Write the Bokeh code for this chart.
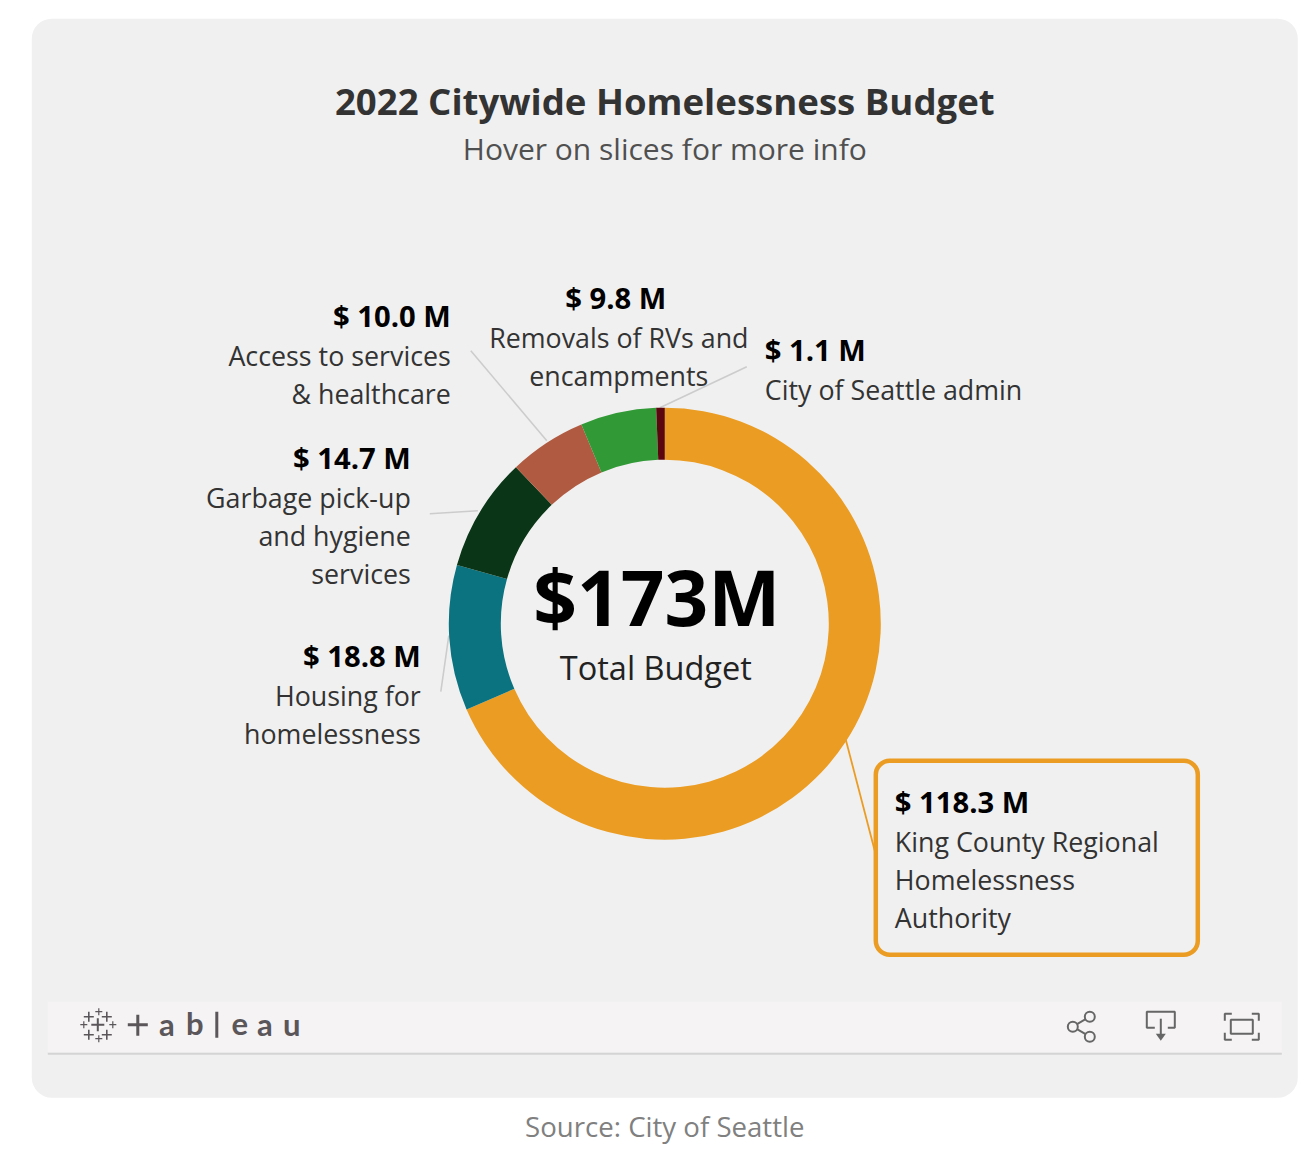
import math
from bokeh.plotting import figure
from bokeh.models import Range1d
from bokeh.core.properties import value
from bokeh.embed import file_html
from bokeh.resources import INLINE

# ---- data ----
categories = ["King County Regional Homelessness Authority", "Housing for homelessness",
              "Garbage pick-up and hygiene services", "Access to services & healthcare",
              "Removals of RVs and encampments", "City of Seattle admin"]
budget_m = [118.3, 18.8, 14.7, 10.0, 9.8, 1.1]
slice_colors = ["#EB9C23", "#0B727F", "#0A3617", "#B05B41", "#329937", "#5C0610"]

title = "2022 Citywide Homelessness Budget"
subtitle = "Hover on slices for more info"
total_label = "$173M"
total_caption = "Total Budget"
source = "Source: City of Seattle"

W, H = 1300, 1156
FONT = "Open Sans"


def X(px):
    return px - 0.7


def Y(py):
    return H - py + 0.8


p = figure(width=W, height=H, output_backend="svg", toolbar_location=None,
           x_range=Range1d(0, W), y_range=Range1d(0, H),
           min_border=0, outline_line_color=None, background_fill_color="white",
           border_fill_color="white")
p.axis.visible = False
p.grid.visible = False


def box(l, t, r, b, **kw):
    p.quad(left=[X(l)], right=[X(r)], top=[Y(t)], bottom=[Y(b)], **kw)


def line(xs, ys, color, width, **kw):
    p.line([X(x) for x in xs], [Y(y) for y in ys], line_color=color, line_width=width, **kw)


def text(x, y, s, size, color="#333333", style="normal", align="left", font=FONT):
    p.text([X(x)], [Y(y)], text=[s], text_font=value(font), text_font_size=f"{size}px",
           text_color=color, text_font_style=style, text_align=align, text_baseline="middle")


# panel
box(32, 19, 1298, 1098, fill_color="#F0F0F0", line_color=None, border_radius=20)

# title
text(665, 101, title, 36.6, "#333333", "bold", "center")
text(665, 149, subtitle, 30, "#505050", "normal", "center")

# leader lines
LEAD = "#CCCCCC"
line([471, 547], [351, 441], LEAD, 1.6)
line([430, 478], [514, 511], LEAD, 1.6)
line([441, 449], [692, 636], LEAD, 1.6)
line([747, 660], [367, 408], LEAD, 1.6)
line([846, 876], [740, 855], slice_colors[0], 1.8)

# donut
cx, cy = X(665), Y(624)
total = sum(budget_m)
starts, ends = [], []
a = 0.0
for v in budget_m:
    starts.append(math.pi / 2 - a / total * 2 * math.pi)
    a += v
    ends.append(math.pi / 2 - a / total * 2 * math.pi)
p.annular_wedge(x=[cx] * len(budget_m), y=[cy] * len(budget_m), inner_radius=164, outer_radius=216,
                start_angle=ends, end_angle=starts, fill_color=slice_colors, line_color=None)

# centre
text(657, 596, total_label, 76.5, "#000000", "bold", "center")
text(656, 668, total_caption, 32.5, "#222222", "normal", "center")

# labels
BIG, SMALL = 29.2, 26.8
text(451, 316, "$ 10.0 M", BIG, "#000000", "bold", "right")
text(451, 356, "Access to services", SMALL, align="right")
text(451, 394, "& healthcare", SMALL, align="right")

text(616, 298, "$ 9.8 M", BIG, "#000000", "bold", "center")
text(619, 338, "Removals of RVs and", SMALL, align="center")
text(619, 376, "encampments", SMALL, align="center")

text(765, 350, "$ 1.1 M", BIG, "#000000", "bold")
text(765, 390, "City of Seattle admin", SMALL)

text(411, 458, "$ 14.7 M", BIG, "#000000", "bold", "right")
text(411, 498, "Garbage pick-up", SMALL, align="right")
text(411, 536, "and hygiene", SMALL, align="right")
text(411, 574, "services", SMALL, align="right")

text(421, 656, "$ 18.8 M", BIG, "#000000", "bold", "right")
text(421, 696, "Housing for", SMALL, align="right")
text(421, 734, "homelessness", SMALL, align="right")

box(876, 761, 1198, 955, fill_color=None, line_color=slice_colors[0], line_width=4.5, border_radius=14)
text(895, 802, "$ 118.3 M", BIG, "#000000", "bold")
text(895, 842, "King County Regional", SMALL)
text(895, 880, "Homelessness", SMALL)
text(895, 918, "Authority", SMALL)

# tableau toolbar
box(48, 1002, 1282, 1053, fill_color="#F5F3F4", line_color=None)
line([48, 1282], [1054, 1054], "#D4D4D4", 2)

INK = "#5A5659"
# logo
for (mx, my, hs, w) in [(98, 1025, 6.5, 2), (89, 1017, 5, 1.6), (107, 1017, 5, 1.6), (89, 1035, 5, 1.6),
                        (107, 1035, 5, 1.6), (99, 1012, 3.5, 1.2), (99, 1039, 3.5, 1.2),
                        (84, 1025, 3.5, 1.2), (113, 1025, 3.5, 1.2)]:
    line([mx - hs, mx + hs], [my, my], INK, w)
    line([mx, mx], [my - hs, my + hs], INK, w)
line([128, 148], [1025, 1025], INK, 3)
line([138, 138], [1015, 1036], INK, 3)
for lx, ch, ly in [(167, "a", 1024), (195, "b", 1023), (240, "e", 1024), (265, "a", 1024), (292, "u", 1024)]:
    text(lx, ly, ch, 31, INK, "bold", "center", "Lato")
line([217, 217], [1012, 1038], INK, 3)

# share icon
ICON = "#666666"
line([1073, 1090], [1027, 1017], ICON, 2)
line([1073, 1090], [1027, 1037], ICON, 2)
p.circle([X(1090), X(1073), X(1090)], [Y(1017), Y(1027), Y(1037)], radius=5,
         fill_color="#F5F3F4", line_color=ICON, line_width=2)

# download icon
line([1155, 1147, 1147, 1175, 1175, 1168], [1028, 1028, 1012, 1012, 1028, 1028], ICON, 2)
line([1161, 1161], [1019, 1036], ICON, 2)
p.patch([X(1156), X(1166), X(1161)], [Y(1034), Y(1034), Y(1041)], fill_color=ICON, line_color=None)

# fullscreen icon
box(1231, 1020, 1253, 1034, fill_color=None, line_color=ICON, line_width=2)
line([1225, 1225, 1232], [1021, 1014, 1014], ICON, 2)
line([1252, 1259, 1259], [1014, 1014, 1021], ICON, 2)
line([1225, 1225, 1232], [1033, 1040, 1040], ICON, 2)
line([1252, 1259, 1259], [1040, 1040, 1033], ICON, 2)

# source
text(665, 1126, source, 27.6, "#808080", "normal", "center")

open("out.html", "w").write(file_html(p, INLINE))
